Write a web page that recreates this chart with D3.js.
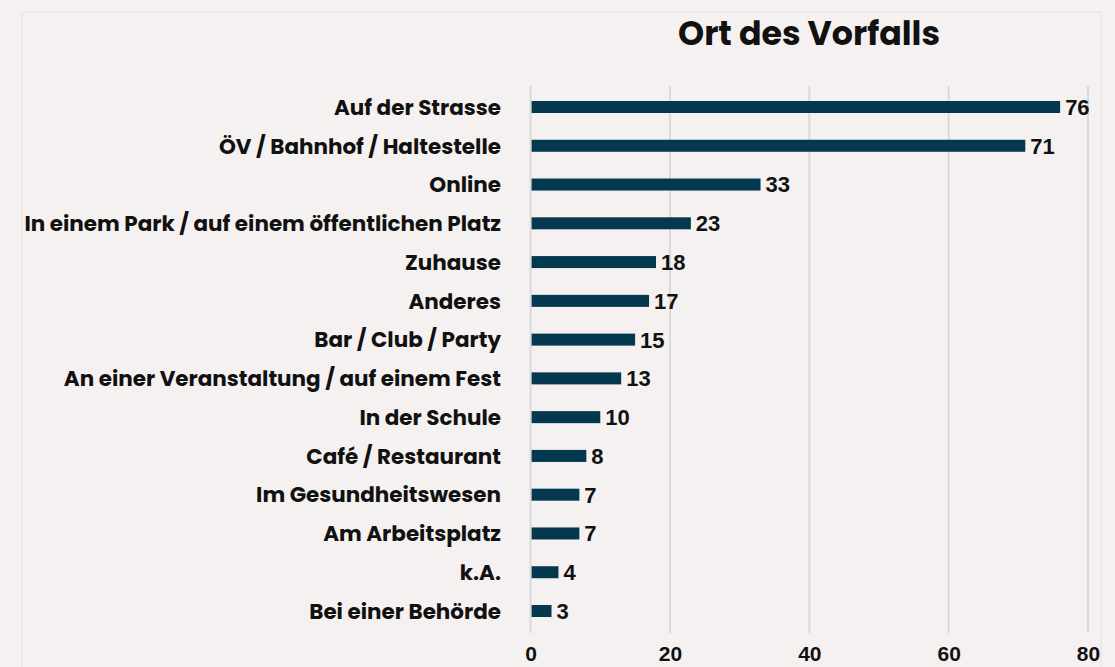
<!DOCTYPE html>
<html>
<head>
<meta charset="utf-8">
<script src="https://cdn.jsdelivr.net/npm/d3@7"></script>
<style>
  html, body { margin: 0; padding: 0; background: #f4f1f0; }
  svg { display: block; }
</style>
</head>
<body>
<svg id="chart" width="1115" height="667"></svg>
<script>
const categories = [
  "Auf der Strasse",
  "ÖV / Bahnhof / Haltestelle",
  "Online",
  "In einem Park / auf einem öffentlichen Platz",
  "Zuhause",
  "Anderes",
  "Bar / Club / Party",
  "An einer Veranstaltung / auf einem Fest",
  "In der Schule",
  "Café / Restaurant",
  "Im Gesundheitswesen",
  "Am Arbeitsplatz",
  "k.A.",
  "Bei einer Behörde"
];
const values = [76, 71, 33, 23, 18, 17, 15, 13, 10, 8, 7, 7, 4, 3];
const tickValues = [0, 20, 40, 60, 80];
const title = "Ort des Vorfalls";

const svg = d3.select("#chart");
const catFont = "'Poppins', 'Open Sans', 'Noto Sans', sans-serif";
const numFont = "'Liberation Sans', Arial, sans-serif";

// frame
svg.append("rect").attr("x", 22).attr("y", 12).attr("width", 1079).attr("height", 700)
  .attr("fill", "none").attr("stroke", "#e4e0df").attr("stroke-width", 1);

const x = d3.scaleLinear().domain([0, 80]).range([530.6, 1088]);
const y = d3.scalePoint().domain(categories).range([107, 611]);
const barH = 12;

// gridlines
svg.append("g").selectAll("line").data(tickValues).join("line")
  .attr("x1", d => x(d)).attr("x2", d => x(d))
  .attr("y1", 86).attr("y2", 633)
  .attr("stroke", "#dcdad9").attr("stroke-width", 2);

// x axis tick labels
const xAxis = d3.axisBottom(x).tickValues(tickValues).tickSize(0).tickPadding(0);
const gx = svg.append("g").attr("transform", "translate(0,661)").call(xAxis);
gx.select(".domain").remove();
gx.selectAll("text")
  .attr("font-family", numFont).attr("font-weight", "bold").attr("font-size", 21)
  .attr("fill", "#111").attr("y", 0).attr("dy", "0");

// bars
svg.append("g").selectAll("rect").data(values).join("rect")
  .attr("x", x(0) + 1)
  .attr("y", (d, i) => y(categories[i]) - barH / 2)
  .attr("width", d => x(d) - x(0) - 1)
  .attr("height", barH)
  .attr("fill", "#03384f");

// value labels
svg.append("g").selectAll("text").data(values).join("text")
  .attr("x", d => x(d) + 5)
  .attr("y", (d, i) => y(categories[i]))
  .attr("dy", "0.36em")
  .attr("font-family", numFont).attr("font-weight", "bold").attr("font-size", 22)
  .attr("fill", "#111")
  .text(d => d);

// category labels
const labels = svg.append("g").selectAll("text").data(categories).join("text")
  .attr("x", 501)
  .attr("y", d => y(d))
  .attr("dy", "0.36em")
  .attr("text-anchor", "end")
  .attr("font-family", catFont).attr("font-weight", "bold").attr("font-size", 100)
  .attr("fill", "#111")
  .text(d => d);
const longest = labels.filter((d, i) => i === 3).node().getComputedTextLength();
labels.attr("font-size", 100 * 477 / longest);

// title
const t = svg.append("text")
  .attr("x", 809).attr("y", 33).attr("dy", "0.36em")
  .attr("text-anchor", "middle")
  .attr("font-family", catFont).attr("font-weight", "bold").attr("font-size", 100)
  .attr("fill", "#111")
  .text(title);
const tl = t.node().getComputedTextLength();
t.attr("font-size", 100 * 262 / tl);
</script>
</body>
</html>
